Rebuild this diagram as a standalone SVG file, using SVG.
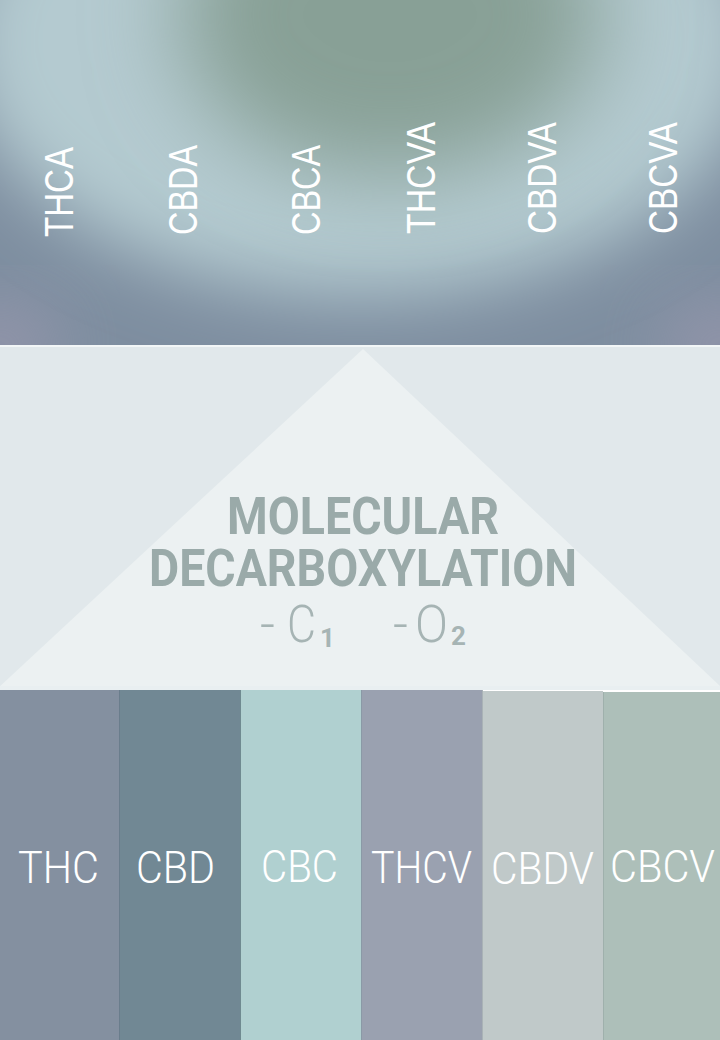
<svg xmlns="http://www.w3.org/2000/svg" width="720" height="1040" viewBox="0 0 720 1040">
<defs>
<style>
.top{font-family:"Liberation Sans",Arial,sans-serif;font-size:40px;fill:#ffffff;}
.lab{font-family:Roboto,"Liberation Sans",sans-serif;font-weight:300;font-size:44px;fill:#ffffff;}
.title{font-family:Roboto,"Liberation Sans",sans-serif;font-weight:700;font-size:44px;fill:#9aaaa9;}
.sub{font-family:Roboto,"Liberation Sans",sans-serif;font-weight:300;font-size:52px;fill:#a6b4b4;}
.subs{font-family:Roboto,"Liberation Sans",sans-serif;font-weight:700;font-size:26px;fill:#a6b4b4;}
.sep{stroke-width:1;}
</style>
<clipPath id="topclip"><rect x="0" y="0" width="720" height="345"/></clipPath>
<filter id="blur1" x="-50%" y="-50%" width="200%" height="200%"><feGaussianBlur stdDeviation="35"/></filter>
<filter id="blur2" x="-50%" y="-50%" width="200%" height="200%"><feGaussianBlur stdDeviation="45"/></filter>
</defs>

<g id="top-band" clip-path="url(#topclip)">
<rect x="0" y="0" width="720" height="345" fill="#7e8ea0"/>
<ellipse cx="0" cy="345" rx="60" ry="40" fill="#9595ab" filter="url(#blur1)"/>
<ellipse cx="720" cy="345" rx="60" ry="40" fill="#9595ab" filter="url(#blur1)"/>
<ellipse cx="360" cy="40" rx="400" ry="255" fill="#b4cad0" filter="url(#blur1)"/>
<ellipse cx="390" cy="15" rx="210" ry="160" fill="#88a096" filter="url(#blur2)"/>
</g>

<g id="acids">
<g id="n-thca"><text class="top" transform="translate(73,237) rotate(-90)" textLength="90" lengthAdjust="spacingAndGlyphs">THCA</text></g>
<g id="n-cbda"><text class="top" transform="translate(197,235) rotate(-90)" textLength="90" lengthAdjust="spacingAndGlyphs">CBDA</text></g>
<g id="n-cbca"><text class="top" transform="translate(320,235) rotate(-90)" textLength="90" lengthAdjust="spacingAndGlyphs">CBCA</text></g>
<g id="n-thcva"><text class="top" transform="translate(435,234) rotate(-90)" textLength="112" lengthAdjust="spacingAndGlyphs">THCVA</text></g>
<g id="n-cbdva"><text class="top" transform="translate(556,234) rotate(-90)" textLength="112" lengthAdjust="spacingAndGlyphs">CBDVA</text></g>
<g id="n-cbcva"><text class="top" transform="translate(677,234) rotate(-90)" textLength="112" lengthAdjust="spacingAndGlyphs">CBCVA</text></g>
</g>

<g id="process">
<rect x="0" y="345" width="720" height="345" fill="#e1e8eb"/>
<rect x="0" y="345" width="720" height="2" fill="#f2f6f7"/>
<polygon points="363,349 722,688 -2,688" fill="#ecf1f2"/>
<rect x="0" y="686" width="720" height="4" fill="#e9eff1"/>
<text class="title" transform="scale(1,1.17)"><tspan x="227" y="456.4" textLength="272" lengthAdjust="spacingAndGlyphs">MOLECULAR</tspan><tspan x="149" y="500.9" textLength="428" lengthAdjust="spacingAndGlyphs">DECARBOXYLATION</tspan></text>
<text class="sub" x="260" y="642" textLength="15" lengthAdjust="spacingAndGlyphs">-</text>
<text class="sub" x="287" y="642" textLength="29" lengthAdjust="spacingAndGlyphs">C</text>
<text class="subs" x="320" y="647">1</text>
<text class="sub" x="393" y="642" textLength="15" lengthAdjust="spacingAndGlyphs">-</text>
<text class="sub" x="415" y="642" textLength="33" lengthAdjust="spacingAndGlyphs">O</text>
<text class="subs" x="451" y="645">2</text>
</g>

<g id="products">
<g id="n-thc"><rect x="0" y="690" width="120" height="350" fill="#8490a0"/><text class="lab" x="18" y="883" textLength="81" lengthAdjust="spacingAndGlyphs">THC</text></g>
<g id="n-cbd"><rect x="120" y="690" width="121" height="350" fill="#718894"/><text class="lab" x="136" y="883" textLength="79" lengthAdjust="spacingAndGlyphs">CBD</text></g>
<g id="n-cbc"><rect x="241" y="690" width="121" height="350" fill="#b0d0d0"/><text class="lab" x="261" y="882" textLength="77" lengthAdjust="spacingAndGlyphs">CBC</text></g>
<g id="n-thcv"><rect x="362" y="690" width="121" height="350" fill="#9aa1b0"/><text class="lab" x="371" y="883" textLength="101" lengthAdjust="spacingAndGlyphs">THCV</text></g>
<g id="n-cbdv"><rect x="483" y="691" width="120" height="349" fill="#c0c9c9"/><text class="lab" x="491" y="884" textLength="103" lengthAdjust="spacingAndGlyphs">CBDV</text></g>
<g id="n-cbcv"><rect x="603" y="692" width="117" height="348" fill="#adbfb9"/><text class="lab" x="610" y="882" textLength="105" lengthAdjust="spacingAndGlyphs">CBCV</text></g>
</g>

<g id="connectors">
<line class="sep" x1="119.5" y1="690" x2="119.5" y2="1040" stroke="#6a7d8c"/>
<line class="sep" x1="240.5" y1="690" x2="240.5" y2="1040" stroke="#6f8a90"/>
<line class="sep" x1="361.5" y1="690" x2="361.5" y2="1040" stroke="#8a9aa6"/>
<line class="sep" x1="482.5" y1="690" x2="482.5" y2="1040" stroke="#a9b2b6"/>
<line class="sep" x1="603.5" y1="692" x2="603.5" y2="1040" stroke="#9fb0ac"/>
</g>
</svg>
